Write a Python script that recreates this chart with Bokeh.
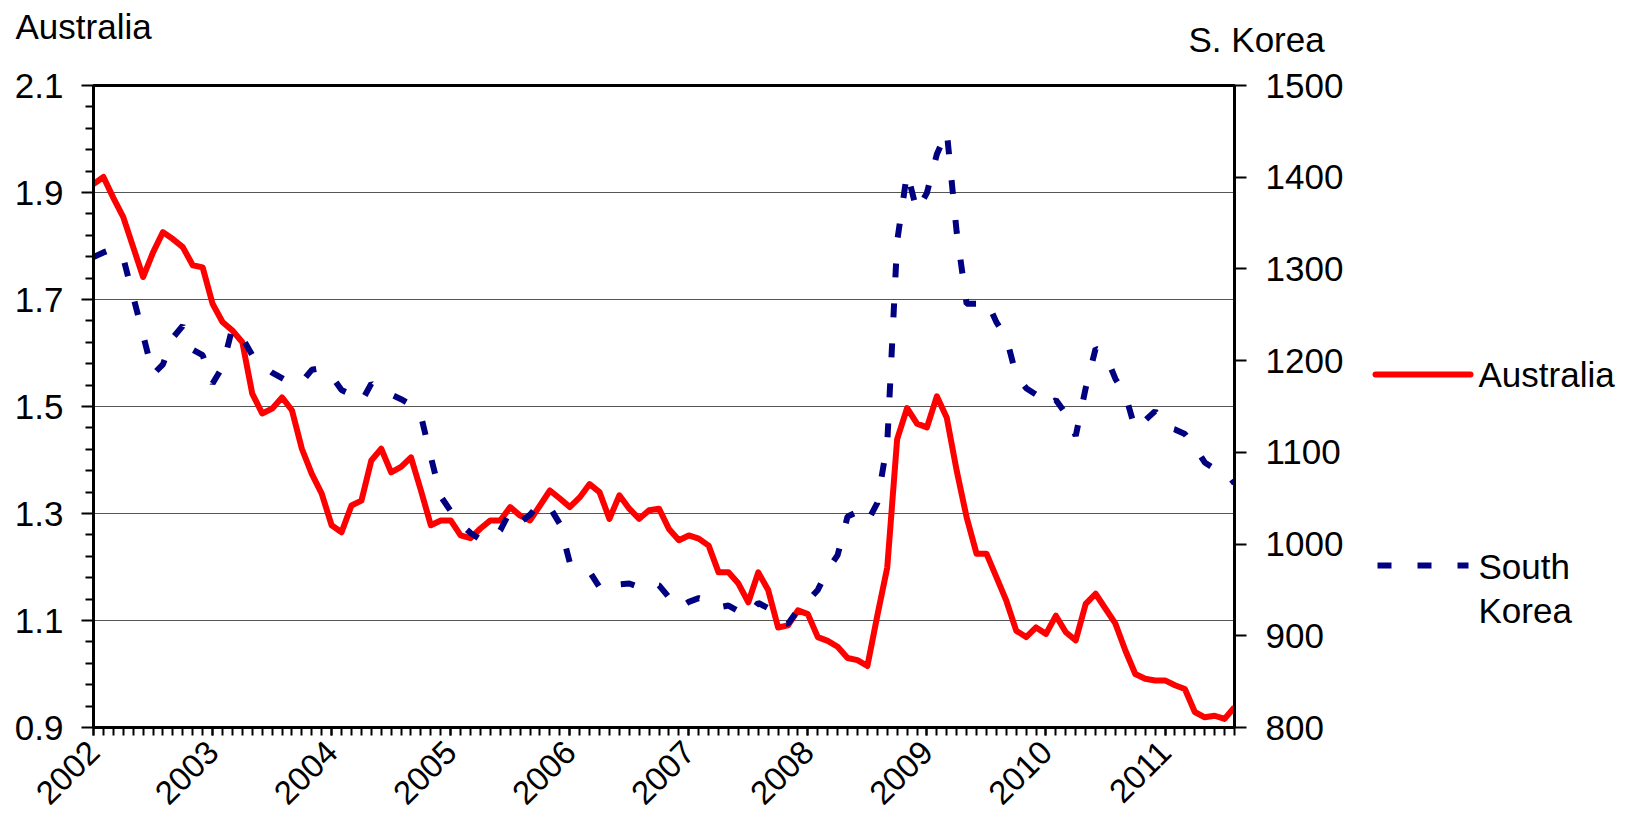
import math
from bokeh.plotting import figure
from bokeh.layouts import column, row
from bokeh.models import Range1d, LinearAxis, FixedTicker, NumeralTickFormatter
from bokeh.core.properties import value
from bokeh.embed import file_html
from bokeh.resources import INLINE

# ---------------- data (monthly, Jan 2002 .. Aug 2011) ----------------
months = list(range(116))
year_ticks = [0, 12, 24, 36, 48, 60, 72, 84, 96, 108]
year_labels = ["2002", "2003", "2004", "2005", "2006", "2007", "2008", "2009", "2010", "2011"]

australia = [
    1.916, 1.929, 1.890, 1.854, 1.798, 1.742, 1.788, 1.826, 1.813, 1.798, 1.764, 1.760,
    1.692, 1.658, 1.642, 1.620, 1.524, 1.487, 1.496, 1.517, 1.493, 1.421, 1.374, 1.337,
    1.278, 1.265, 1.315, 1.324, 1.399, 1.421, 1.377, 1.387, 1.405, 1.343, 1.278, 1.287,
    1.287, 1.259, 1.254, 1.272, 1.287, 1.287, 1.312, 1.296, 1.287, 1.315, 1.343, 1.328,
    1.312, 1.330, 1.355, 1.340, 1.290, 1.334, 1.309, 1.290, 1.306, 1.309, 1.271, 1.250,
    1.259, 1.253, 1.240, 1.190, 1.190, 1.169, 1.134, 1.190, 1.157, 1.087, 1.091, 1.119,
    1.112, 1.069, 1.062, 1.051, 1.030, 1.026, 1.015, 1.109, 1.199, 1.439, 1.497, 1.468,
    1.461, 1.519, 1.479, 1.380, 1.293, 1.225, 1.225, 1.181, 1.137, 1.081, 1.069, 1.087,
    1.075, 1.109, 1.078, 1.063, 1.131, 1.150, 1.122, 1.094, 1.044, 1.000, 0.991, 0.988,
    0.988, 0.979, 0.972, 0.929, 0.919, 0.922, 0.916, 0.938,
]

south_korea = [
    1313, 1318, 1322, 1312, 1270, 1228, 1185, 1196, 1225, 1238, 1212, 1206,
    1175, 1193, 1236, 1225, 1206, 1195, 1187, 1181, 1175, 1177, 1190, 1192,
    1183, 1168, 1163, 1155, 1175, 1165, 1163, 1158, 1152, 1140, 1095, 1052,
    1036, 1022, 1012, 1005, 1005, 1015, 1036, 1024, 1032, 1045, 1040, 1022,
    980, 972, 970, 953, 948, 956, 957, 953, 958, 955, 942, 930,
    937, 941, 938, 931, 933, 927, 922, 936, 930, 916, 913, 928,
    938, 950, 972, 988, 1030, 1035, 1024, 1045, 1110, 1330, 1405, 1363,
    1383, 1425, 1450, 1340, 1262, 1262, 1266, 1242, 1225, 1184, 1170, 1163,
    1150, 1157, 1142, 1118, 1170, 1213, 1207, 1180, 1163, 1125, 1135, 1145,
    1128, 1125, 1120, 1106, 1089, 1082, 1080, 1066,
]

left_ticks = [0.9, 1.1, 1.3, 1.5, 1.7, 1.9, 2.1]
left_minor = [0.94, 0.98, 1.02, 1.06, 1.14, 1.18, 1.22, 1.26, 1.34, 1.38, 1.42, 1.46,
              1.54, 1.58, 1.62, 1.66, 1.74, 1.78, 1.82, 1.86, 1.94, 1.98, 2.02, 2.06]
grid_ticks = [1.1, 1.3, 1.5, 1.7, 1.9]
right_ticks = [800, 900, 1000, 1100, 1200, 1300, 1400, 1500]

series_names = ["Australia", "South\nKorea"]
left_title = "Australia"
right_title = "S. Korea"

FONT = "Liberation Sans"
RED = "#FF0000"
NAVY = "#000080"

TOP_H = 60
MAIN_W = 1360
TOTAL_W = 1636
FRAME_L, FRAME_R, FRAME_T, FRAME_B = 93, 1234, 85, 727
BORDER_B = 91


def blank(width, height, xr, yr, top=0, bottom=0):
    f = figure(frame_width=width, frame_height=height, x_range=xr, y_range=yr,
               output_backend="svg", toolbar_location=None,
               x_axis_type=None, y_axis_type=None,
               min_border=0, min_border_left=0, min_border_right=0,
               min_border_top=top, min_border_bottom=bottom)
    f.outline_line_color = None
    f.xgrid.visible = False
    f.ygrid.visible = False
    f.background_fill_color = "white"
    f.border_fill_color = "white"
    return f


# ---------------- top strip with axis titles ----------------
top = blank(TOTAL_W, TOP_H, Range1d(0, TOTAL_W), Range1d(TOP_H, 0))
top.text(x=[15, 1188], y=[25.5, 39], text=[left_title, right_title],
         text_font=value(FONT), text_font_size="35px", text_color="black",
         text_baseline="middle", text_align="left")

# ---------------- main chart ----------------
p = figure(frame_width=FRAME_R - FRAME_L, frame_height=FRAME_B - FRAME_T,
           x_range=Range1d(0, 115), y_range=Range1d(0.9, 2.1),
           output_backend="svg", toolbar_location=None,
           min_border_left=FRAME_L, min_border_right=MAIN_W - FRAME_R,
           min_border_top=FRAME_T - TOP_H, min_border_bottom=BORDER_B)
p.extra_y_ranges = {"kr": Range1d(800, 1500)}
p.background_fill_color = "white"
p.border_fill_color = "white"
p.outline_line_color = "black"
p.outline_line_width = 3

xa = p.xaxis[0]
xa.ticker = FixedTicker(ticks=year_ticks, minor_ticks=months)
xa.major_label_overrides = {t: l for t, l in zip(year_ticks, year_labels)}
xa.major_label_orientation = math.pi / 4
xa.major_label_text_font = FONT
xa.major_label_text_font_size = "33px"
xa.major_label_text_color = "black"
xa.major_label_standoff = 11
xa.axis_line_width = 3
xa.major_tick_out = 8
xa.major_tick_in = 0
xa.minor_tick_out = 8
xa.minor_tick_in = 0
xa.major_tick_line_width = 2
xa.minor_tick_line_width = 2

ya = p.yaxis[0]
ya.ticker = FixedTicker(ticks=left_ticks, minor_ticks=left_minor)
ya.formatter = NumeralTickFormatter(format="0.0")
ya.major_label_text_font = FONT
ya.major_label_text_font_size = "35px"
ya.major_label_text_color = "black"
ya.major_label_standoff = 18
ya.axis_line_width = 3
ya.major_tick_out = 12
ya.major_tick_in = 0
ya.minor_tick_out = 8
ya.minor_tick_in = 0
ya.major_tick_line_width = 2
ya.minor_tick_line_width = 2

ra = LinearAxis(y_range_name="kr")
ra.ticker = FixedTicker(ticks=right_ticks)
ra.formatter = NumeralTickFormatter(format="0")
ra.major_label_text_font = FONT
ra.major_label_text_font_size = "35px"
ra.major_label_text_color = "black"
ra.major_label_standoff = 19
ra.axis_line_width = 3
ra.major_tick_out = 12
ra.major_tick_in = 0
ra.minor_tick_line_color = None
ra.major_tick_line_width = 2
p.add_layout(ra, "right")

p.xgrid.visible = False
p.ygrid.ticker = FixedTicker(ticks=grid_ticks)
p.ygrid.grid_line_color = "#555555"
p.ygrid.grid_line_width = 1

p.line(months, australia, line_color=RED, line_width=6, line_join="round")
p.line(months, south_korea, y_range_name="kr", line_color=NAVY, line_width=6,
       line_dash="14 26")

# ---------------- legend panel (page pixel coordinates, same frame rows as chart) ----------------
leg = blank(TOTAL_W - MAIN_W, FRAME_B - FRAME_T,
            Range1d(MAIN_W, TOTAL_W), Range1d(FRAME_B, FRAME_T),
            top=FRAME_T - TOP_H, bottom=BORDER_B)
leg.line(x=[1375, 1470], y=[374, 374], line_color=RED, line_width=6, line_cap="round")
leg.line(x=[1377, 1468], y=[565, 565], line_color=NAVY, line_width=6, line_dash="14 26")
leg.text(x=[1478, 1478, 1478], y=[374, 565.5, 610],
         text=[series_names[0]] + series_names[1].split("\n"),
         text_font=value(FONT), text_font_size="35px", text_color="black",
         text_baseline="middle", text_align="left")

layout = column(top, row(p, leg, spacing=0), spacing=0)
open("out.html", "w").write(file_html(layout, INLINE))
